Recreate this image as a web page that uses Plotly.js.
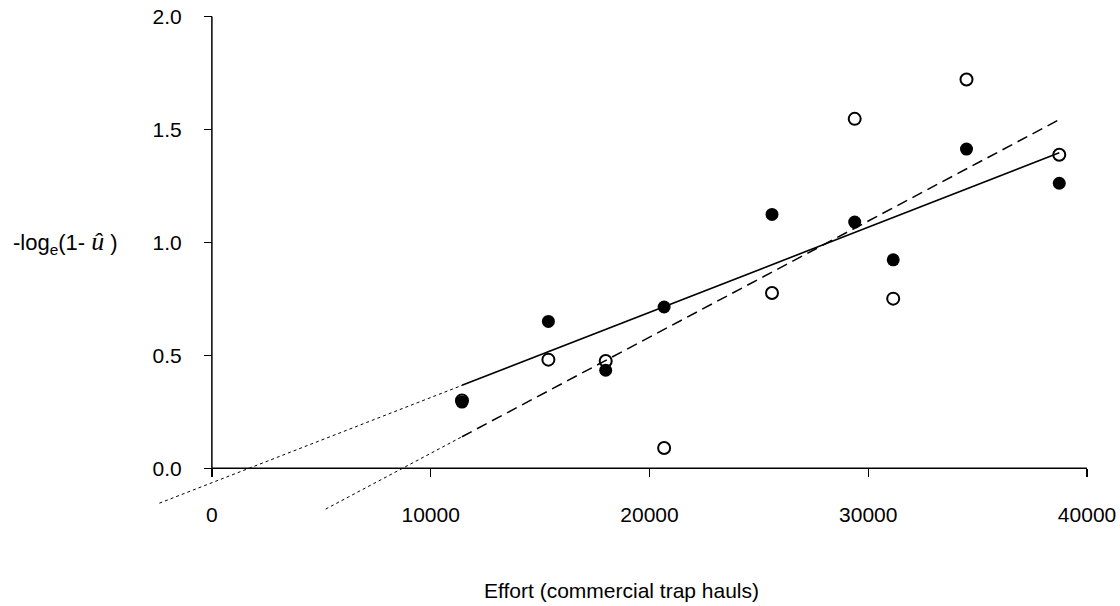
<!DOCTYPE html>
<html>
<head>
<meta charset="utf-8">
<script src="https://cdn.plot.ly/plotly-3.0.1.min.js"></script>
<style>html,body{margin:0;padding:0;background:#fff;}#chart{width:1120px;height:606px;}</style>
</head>
<body>
<div id="chart"></div>
<script>
// Effort (commercial trap hauls) per year
const effort = [11430, 15380, 18000, 20670, 25600, 29380, 31140, 34490, 38730];
// -log_e(1 - u_hat), filled circles (solid regression line)
const filledY = [0.293, 0.650, 0.434, 0.714, 1.124, 1.090, 0.923, 1.413, 1.262];
// -log_e(1 - u_hat), open circles (dashed regression line)
const openY = [0.300, 0.481, 0.475, 0.090, 0.776, 1.547, 0.751, 1.721, 1.388];
// x where the dotted extrapolation of each fitted line begins
const extrapStartFilled = -2400;
const extrapStartOpen = 5200;
// tick values / labels
const xTicks = [0, 10000, 20000, 30000, 40000];
const xTickText = ['0', '10000', '20000', '30000', '40000'];
const yTicks = [0, 0.5, 1.0, 1.5, 2.0];
const yTickText = ['0.0', '0.5', '1.0', '1.5', '2.0'];

function fit(xs, ys) {
  const n = xs.length;
  const mx = xs.reduce((a, b) => a + b, 0) / n;
  const my = ys.reduce((a, b) => a + b, 0) / n;
  let sxy = 0, sxx = 0;
  for (let i = 0; i < n; i++) { sxy += (xs[i] - mx) * (ys[i] - my); sxx += (xs[i] - mx) ** 2; }
  const b = sxy / sxx;
  return { a: my - b * mx, b: b };
}
const xMin = Math.min(...effort), xMax = Math.max(...effort);
const fF = fit(effort, filledY), fO = fit(effort, openY);
const f = (p, x) => p.a + p.b * x;

const traces = [
  { x: [extrapStartFilled, xMin], y: [f(fF, extrapStartFilled), f(fF, xMin)], mode: 'lines',
    line: { color: '#000', width: 1, dash: 'dot' }, hoverinfo: 'skip' },
  { x: [extrapStartOpen, xMin], y: [f(fO, extrapStartOpen), f(fO, xMin)], mode: 'lines',
    line: { color: '#000', width: 1, dash: 'dot' }, hoverinfo: 'skip' },
  { x: [xMin, xMax], y: [f(fF, xMin), f(fF, xMax)], mode: 'lines',
    line: { color: '#000', width: 1.6 }, hoverinfo: 'skip' },
  { x: [xMin, xMax], y: [f(fO, xMin), f(fO, xMax)], mode: 'lines',
    line: { color: '#000', width: 1.5, dash: '11px,6px' }, hoverinfo: 'skip' },
  { x: effort, y: openY, mode: 'markers',
    marker: { symbol: 'circle-open', size: 12, color: '#000', line: { width: 2, color: '#000' } } },
  { x: effort, y: filledY, mode: 'markers',
    marker: { symbol: 'circle', size: 13, color: '#000' } }
];

const xr = [-2600, 40500], yr = [-0.22, 2.02];
const tickFont = { family: 'Liberation Sans, Arial, sans-serif', size: 21, color: '#000' };
const layout = {
  width: 1120, height: 606,
  margin: { l: 155, r: 22, t: 11.5, b: 88.3 },
  paper_bgcolor: '#fff', plot_bgcolor: '#fff',
  showlegend: false,
  font: tickFont,
  xaxis: {
    range: xr, anchor: 'free', position: (0 - yr[0]) / (yr[1] - yr[0]),
    showgrid: false, zeroline: false, showline: false,
    tickmode: 'array', tickvals: xTicks, ticktext: xTickText,
    ticks: 'outside', ticklen: 8, tickwidth: 1.5, tickcolor: '#000',
    ticklabelstandoff: 19, tickfont: tickFont
  },
  yaxis: {
    range: yr, anchor: 'free', position: (0 - xr[0]) / (xr[1] - xr[0]),
    showgrid: false, zeroline: false, showline: false,
    tickmode: 'array', tickvals: yTicks, ticktext: yTickText,
    ticks: 'outside', ticklen: 8, tickwidth: 1.5, tickcolor: '#000',
    ticklabelstandoff: 18, tickfont: tickFont
  },
  shapes: [
    { type: 'line', xref: 'x', yref: 'y', x0: xTicks[0], x1: xTicks[xTicks.length - 1], y0: 0, y1: 0,
      line: { color: '#000', width: 1.5 } },
    { type: 'line', xref: 'x', yref: 'y', x0: 0, x1: 0, y0: yTicks[0], y1: yTicks[yTicks.length - 1],
      line: { color: '#000', width: 1.5 } }
  ],
  annotations: [
    { text: '-log<sub>e</sub>(1- <span style="font-family:Liberation Serif;font-size:26px"><i>û</i></span> )',
      xref: 'paper', yref: 'y', x: -0.153, y: 1.0, xanchor: 'left', yanchor: 'middle',
      showarrow: false, font: { family: 'Liberation Sans, Arial, sans-serif', size: 22, color: '#000' } },
    { text: 'Effort (commercial trap hauls)', xref: 'paper', yref: 'paper',
      x: (621 - 155) / 943, y: -(590 - 517.7) / 506.2, xanchor: 'center', yanchor: 'middle',
      showarrow: false, font: tickFont }
  ]
};
Plotly.newPlot('chart', traces, layout, { displayModeBar: false, staticPlot: true });
</script>
</body>
</html>
